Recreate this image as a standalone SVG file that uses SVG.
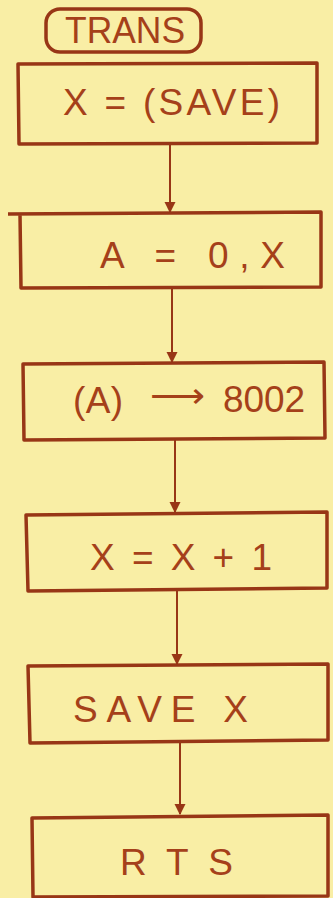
<svg xmlns="http://www.w3.org/2000/svg" width="333" height="898" viewBox="0 0 333 898">
<defs>
<style>
.box{fill:none;stroke:#983616;stroke-width:3.5;stroke-linejoin:round}
.t{font-family:"Liberation Sans",Arial,sans-serif;fill:#a5401a;font-size:37px}
.c{fill:none;stroke:#983616;stroke-width:2}
</style>
<marker id="ah" viewBox="0 0 10 10" refX="9" refY="5" markerWidth="5.5" markerHeight="6" orient="auto" markerUnits="strokeWidth">
<path d="M0,0 L10,5 L0,10 z" fill="#983616"/>
</marker>
</defs>
<rect width="333" height="898" fill="#f9eea5"/>
<g id="connectors">
<path class="c" d="M170,144 L170,212" marker-end="url(#ah)"/>
<path class="c" d="M172,287 L172,362" marker-end="url(#ah)"/>
<path class="c" d="M175,439 L175,512" marker-end="url(#ah)"/>
<path class="c" d="M177,590 L177,664" marker-end="url(#ah)"/>
<path class="c" d="M180,742 L180,814" marker-end="url(#ah)"/>
</g>
<g id="trans">
<rect class="box" x="46" y="9" width="155" height="43" rx="14"/>
<text class="t" x="65" y="43" font-size="31" textLength="120" lengthAdjust="spacingAndGlyphs">TRANS</text>
</g>
<g id="n1">
<path class="box" d="M18,64 L317,63 L317,143 L19,144 Z"/>
<text class="t" x="63" y="115" textLength="217" lengthAdjust="spacing">X = (SAVE)</text>
</g>
<g id="n2">
<path class="box" d="M8,214 L321,212 L321,287 L21,288 L20,214"/>
<text class="t" x="100" y="268" textLength="185" lengthAdjust="spacing">A = 0,X</text>
</g>
<g id="n3">
<path class="box" d="M23,364 L324,362 L325,438 L24,440 Z"/>
<text class="t" x="73" y="413" textLength="50" lengthAdjust="spacing">(A)</text>
<text class="t" x="150" y="408" font-family="DejaVu Sans, sans-serif" font-size="40" textLength="55" lengthAdjust="spacingAndGlyphs">⟶</text>
<text class="t" x="223" y="412" textLength="82" lengthAdjust="spacing">8002</text>
</g>
<g id="n4">
<path class="box" d="M26,515 L327,512 L327,588 L28,591 Z"/>
<text class="t" x="90" y="570" font-size="32" textLength="182" lengthAdjust="spacing">X = X + 1</text>
</g>
<g id="n5">
<path class="box" d="M28,666 L328,664 L328,740 L30,743 Z"/>
<text class="t" x="73" y="722" textLength="175" lengthAdjust="spacing">SAVE X</text>
</g>
<g id="n6">
<path class="box" d="M32,818 L328,815 L328,896 L33,897 Z"/>
<text class="t" x="120" y="875" textLength="113" lengthAdjust="spacing">RTS</text>
</g>
</svg>
